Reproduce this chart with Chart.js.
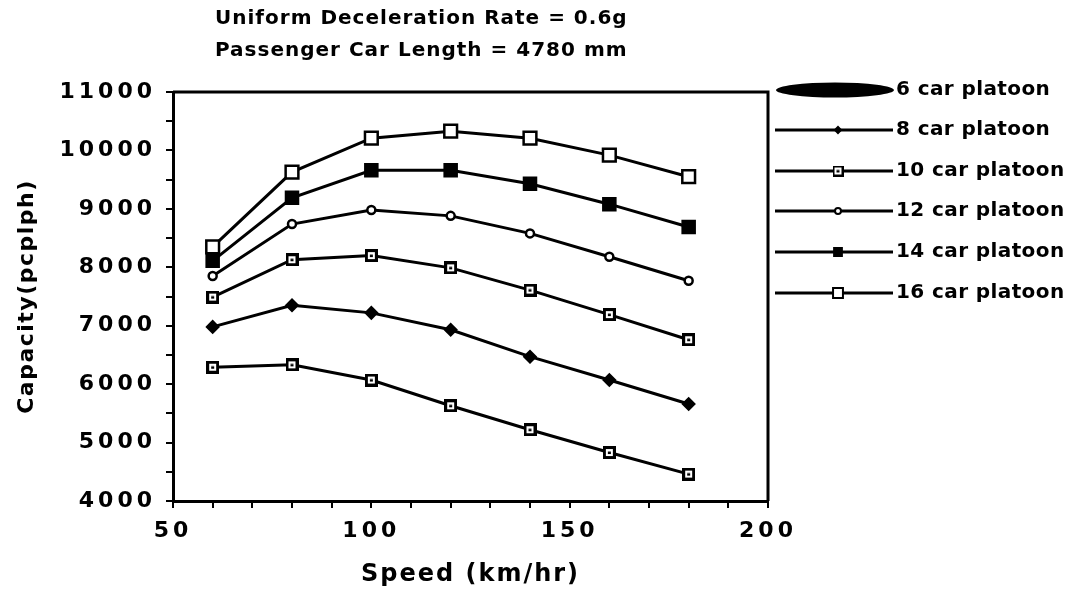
<!DOCTYPE html>
<html>
<head>
<meta charset="utf-8">
<script src="https://cdn.jsdelivr.net/npm/chart.js@4"></script>
<style>
  html, body { margin: 0; padding: 0; background: #fff; }
  #wrap { width: 1075px; height: 590px; }
</style>
</head>
<body>
<div id="wrap"><canvas id="grafico"></canvas></div>
<script>
// velocidade (km/hr)
const speeds = [60, 80, 100, 120, 140, 160, 180];

// capacidade (pcplph) por tamanho de pelotao
const car6  = [6290, 6330, 6070, 5630, 5220, 4830, 4460];
const car8  = [6980, 7350, 7220, 6930, 6470, 6070, 5660];
const car10 = [7490, 8130, 8200, 7990, 7610, 7190, 6760];
const car12 = [7850, 8740, 8980, 8880, 8580, 8180, 7770];
const car14 = [8110, 9190, 9660, 9660, 9430, 9080, 8690];
const car16 = [8350, 9630, 10210, 10330, 10210, 9920, 9550];

const labels = ['6 car platoon', '8 car platoon', '10 car platoon',
                '12 car platoon', '14 car platoon', '16 car platoon'];
const titleLines = ['Uniform Deceleration Rate = 0.6g', 'Passenger Car Length = 4780 mm'];

const fonte = '"DejaVu Sans", "Liberation Sans", sans-serif';

// quadrado com ponto no meio
function squareDot(size, b) {
    const c = document.createElement('canvas');
    c.width = size; c.height = size;
    const g = c.getContext('2d');
    g.fillStyle = '#000';
    g.fillRect(0, 0, size, size);
    g.fillStyle = '#fff';
    g.fillRect(b, b, size - 2 * b, size - 2 * b);
    g.fillStyle = '#000';
    g.fillRect(size / 2 - 1.5, size / 2 - 1, 3, 2.5);
    return c;
}
const dotMarker = squareDot(13, 3);
const dotMarkerSmall = squareDot(11, 2);

function serie(label, data, style, radius, fill, legStyle, legRadius) {
    return {
        label: label,
        data: speeds.map((s, i) => ({x: s, y: data[i]})),
        borderColor: '#000',
        borderWidth: 3,
        pointStyle: style,
        pointRadius: radius,
        pointBorderWidth: 2.5,
        pointBorderColor: '#000',
        pointBackgroundColor: fill,
        tension: 0,
        fill: false,
        legStyle: legStyle,
        legRadius: legRadius
    };
}

const datasets = [
    serie(labels[0], car6, dotMarker, 7, '#fff', null, 0),
    serie(labels[1], car8, 'rectRot', 5.5, '#000', 'rectRot', 3),
    serie(labels[2], car10, dotMarker, 7, '#fff', dotMarkerSmall, 5),
    serie(labels[3], car12, 'circle', 4, '#fff', 'circle', 3),
    serie(labels[4], car14, 'rect', 8.5, '#000', 'rect', 5.5),
    serie(labels[5], car16, 'rect', 9, '#fff', 'rect', 7)
];

// espacamento das letras nos eixos
const spacing = { ticks: '4px', titleX: '2px', titleY: '1.5px' };

const espacar = {
    id: 'espacar',
    beforeDraw(chart) {
        Object.values(chart.scales).forEach((s) => {
            if (s._espacado) return;
            s._espacado = true;
            const dl = s.drawLabels.bind(s);
            const dt = s.drawTitle.bind(s);
            s.drawLabels = (area) => {
                s.ctx.save();
                s.ctx.letterSpacing = spacing.ticks;
                dl(area);
                s.ctx.restore();
            };
            s.drawTitle = () => {
                s.ctx.save();
                s.ctx.letterSpacing = s.isHorizontal() ? spacing.titleX : spacing.titleY;
                dt();
                s.ctx.restore();
            };
        });
    }
};

// moldura, titulo e legenda
const extras = {
    id: 'extras',
    afterDraw(chart) {
        const ctx = chart.ctx;
        const a = chart.chartArea;
        ctx.save();
        ctx.strokeStyle = '#000';
        ctx.lineWidth = 3;
        ctx.beginPath();
        ctx.moveTo(a.left, a.top);
        ctx.lineTo(a.right, a.top);
        ctx.lineTo(a.right, a.bottom);
        ctx.stroke();

        ctx.fillStyle = '#000';
        ctx.letterSpacing = '1px';
        ctx.font = 'bold 20px ' + fonte;
        ctx.textBaseline = 'middle';
        ctx.textAlign = 'left';
        ctx.fillText(titleLines[0], 215, 19);
        ctx.fillText(titleLines[1], 215, 51);

        ctx.letterSpacing = '0.4px';
        const rows = [90, 130, 171, 211, 252, 293];
        chart.data.datasets.forEach((ds, i) => {
            const y = rows[i];
            ctx.strokeStyle = '#000';
            ctx.fillStyle = '#000';
            if (i === 0) {
                ctx.beginPath();
                ctx.ellipse(835, y, 59, 7.5, 0, 0, Math.PI * 2);
                ctx.fill();
            } else {
                ctx.lineWidth = 3;
                ctx.beginPath();
                ctx.moveTo(775, y);
                ctx.lineTo(893, y);
                ctx.stroke();
                ctx.lineWidth = 2;
                ctx.fillStyle = ds.pointBackgroundColor;
                Chart.helpers.drawPoint(ctx, {
                    pointStyle: ds.legStyle,
                    radius: ds.legRadius,
                    borderWidth: 2
                }, 838, y);
            }
            ctx.fillStyle = '#000';
            ctx.font = 'bold 20px ' + fonte;
            ctx.fillText(ds.label, 896, y);
        });
        ctx.restore();
    }
};

new Chart(document.getElementById('grafico').getContext('2d'), {
    type: 'line',
    data: { datasets: datasets },
    plugins: [espacar, extras],
    options: {
        responsive: true,
        maintainAspectRatio: false,
        animation: false,
        layout: { padding: { top: 92, right: 307, left: 0, bottom: 0 } },
        plugins: {
            legend: { display: false },
            tooltip: { enabled: false }
        },
        scales: {
            x: {
                type: 'linear',
                min: 50,
                max: 200,
                afterFit: (s) => { s.height = 89; },
                ticks: {
                    stepSize: 10,
                    autoSkip: false,
                    maxRotation: 0,
                    padding: 10,
                    color: '#000',
                    font: { family: fonte, size: 22, weight: 'bold' },
                    callback: (v) => v % 50 === 0 ? v : ''
                },
                grid: { drawOnChartArea: false, color: '#000', lineWidth: 2, tickLength: 7 },
                border: { color: '#000', width: 3 },
                title: {
                    display: true,
                    text: 'Speed (km/hr)',
                    color: '#000',
                    font: { family: fonte, size: 24, weight: 'bold' },
                    padding: { top: 0, bottom: 1 }
                }
            },
            y: {
                min: 4000,
                max: 11000,
                afterFit: (s) => { s.width = 173; },
                ticks: {
                    stepSize: 500,
                    autoSkip: false,
                    padding: 10,
                    color: '#000',
                    font: { family: fonte, size: 22, weight: 'bold' },
                    callback: (v) => v % 1000 === 0 ? v : ''
                },
                grid: { drawOnChartArea: false, color: '#000', lineWidth: 2, tickLength: 7 },
                border: { color: '#000', width: 3 },
                title: {
                    display: true,
                    text: 'Capacity(pcplph)',
                    color: '#000',
                    font: { family: fonte, size: 22, weight: 'bold' },
                    padding: { top: 14, bottom: 0 }
                }
            }
        }
    }
});
</script>
</body>
</html>
